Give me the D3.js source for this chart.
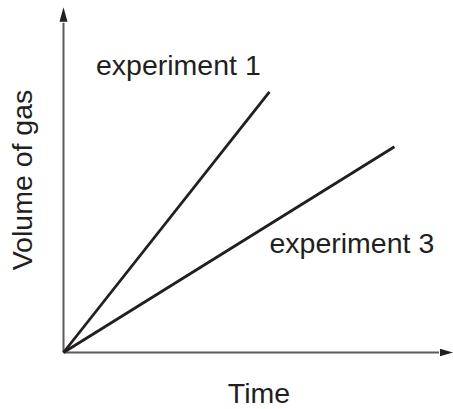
<!DOCTYPE html>
<html>
<head>
<meta charset="utf-8">
<script src="https://cdn.jsdelivr.net/npm/d3@7"></script>
<style>
  html, body { margin: 0; padding: 0; background: #fff; }
  svg { display: block; }
  text { font-family: "Liberation Sans", Arial, sans-serif; fill: #231f20; }
</style>
</head>
<body>
<svg id="chart" width="453" height="409"></svg>
<script>
// Data (arbitrary units: time vs volume of gas)
const seriesNames = ["experiment 1", "experiment 3"];
const exp1Time = [0, 5.47];
const exp1Volume = [0, 7.88];
const exp3Time = [0, 8.79];
const exp3Volume = [0, 6.22];
const xAxisLabel = "Time";
const yAxisLabel = "Volume of gas";

const svg = d3.select("#chart");
const ox = 63.5, oy = 352.5;
const x = d3.scaleLinear().domain([0, 10]).range([ox, 440]);
const y = d3.scaleLinear().domain([0, 10]).range([oy, 21.7]);

const axisColor = "#5a5a5a";
const lineColor = "#231f20";

// Axes
svg.append("line").attr("x1", x(0)).attr("y1", y(0)).attr("x2", x(0)).attr("y2", y(10) + 1)
  .attr("stroke", axisColor).attr("stroke-width", 2);
svg.append("line").attr("x1", x(0)).attr("y1", y(0)).attr("x2", x(10) - 1).attr("y2", y(0))
  .attr("stroke", axisColor).attr("stroke-width", 2);

// Arrowheads
svg.append("path")
  .attr("d", `M${x(0) - 4},${y(10)} L${x(0)},${y(10) - 14.5} L${x(0) + 4},${y(10)} Z`)
  .attr("fill", lineColor);
svg.append("path")
  .attr("d", `M${x(10)},${y(0) - 3.7} L${x(10) + 13},${y(0)} L${x(10)},${y(0) + 3.7} Z`)
  .attr("fill", lineColor);

// Series lines
const series = [
  { name: seriesNames[0], t: exp1Time, v: exp1Volume },
  { name: seriesNames[1], t: exp3Time, v: exp3Volume }
];
const lineGen = d3.line().x(d => x(d[0])).y(d => y(d[1]));
series.forEach(s => {
  svg.append("path")
    .attr("d", lineGen(s.t.map((t, i) => [t, s.v[i]])))
    .attr("fill", "none")
    .attr("stroke", lineColor)
    .attr("stroke-width", 2.8)
    .attr("stroke-linecap", "butt");
});

// Series labels
svg.append("text").attr("x", 96).attr("y", 75).attr("font-size", 28.5).text(seriesNames[0]);
svg.append("text").attr("x", 269.5).attr("y", 252.5).attr("font-size", 28.5).text(seriesNames[1]);

// Axis titles
svg.append("text").attr("x", 259).attr("y", 402.5).attr("text-anchor", "middle")
  .attr("font-size", 28.5).text(xAxisLabel);
svg.append("text").attr("transform", "translate(32,180) rotate(-90)")
  .attr("text-anchor", "middle").attr("font-size", 28.5).text(yAxisLabel);
</script>
</body>
</html>
